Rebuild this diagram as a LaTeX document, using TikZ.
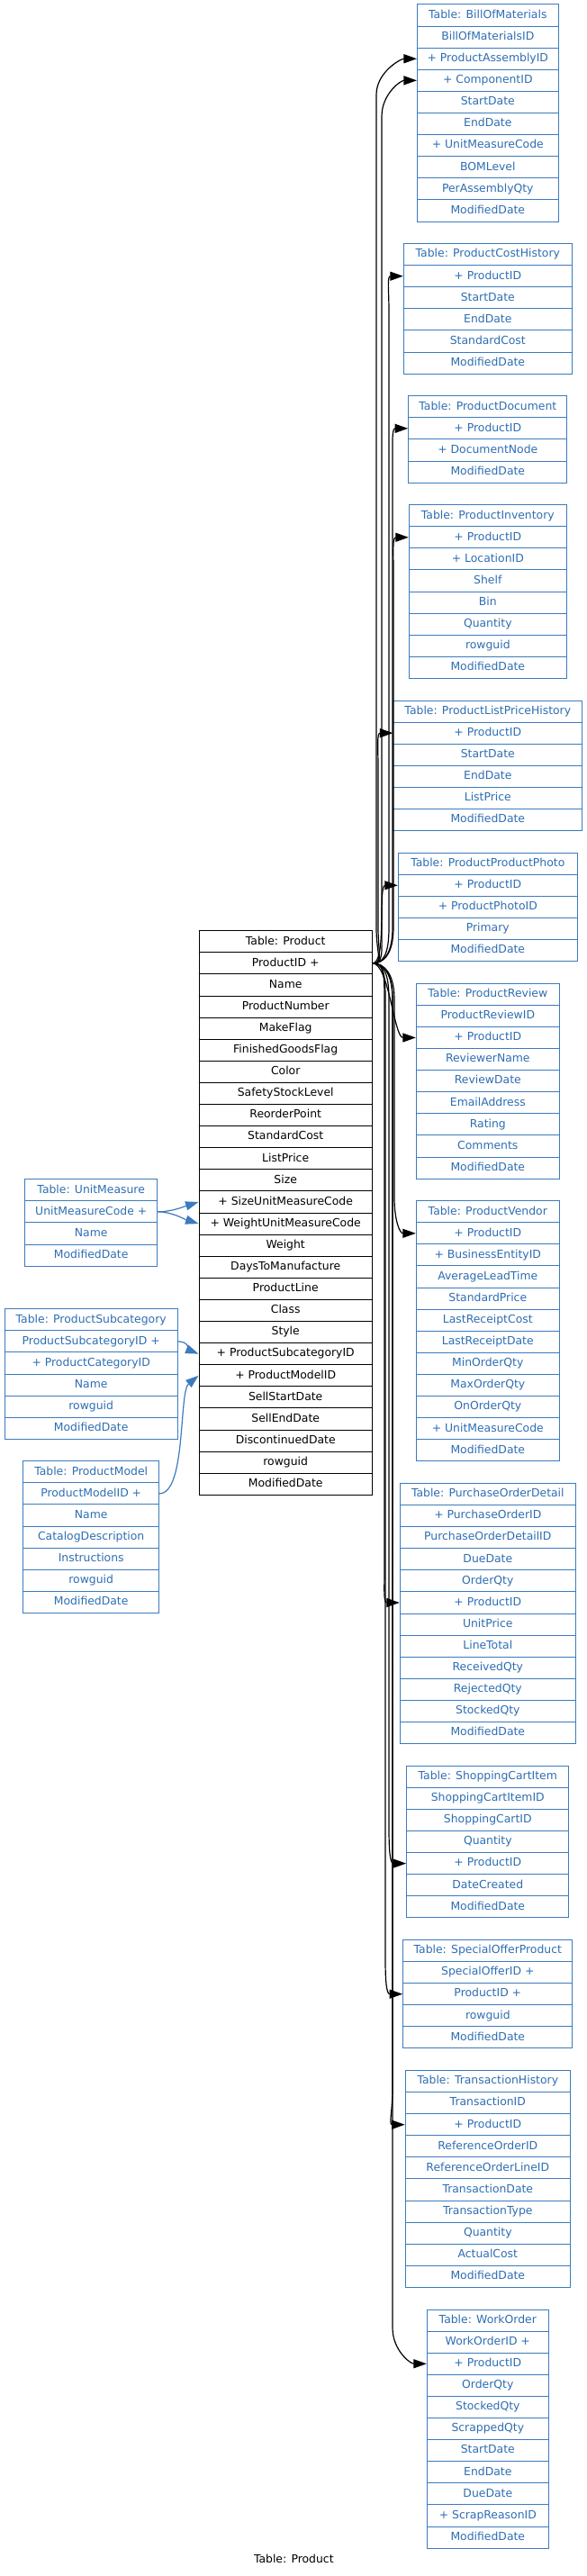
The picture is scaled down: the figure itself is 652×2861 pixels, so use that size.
\documentclass[tikz,border=0pt]{standalone}
\usepackage{fontspec}
\setmainfont{DejaVu Sans}
\usetikzlibrary{arrows.meta}
\definecolor{tblue}{HTML}{3C7BBE}
\definecolor{ttext}{HTML}{2E6DB1}
\newcommand{\tabfont}{\fontsize{12.4}{14}\selectfont}
% one table: name, centre x, top y, width, style, fields
\newcommand{\dbtable}[6]{%
  \foreach \fld [count=\i from 0] in {#6}{%
    \node[#5, minimum width=#4pt] (#1-\i) at (#2, #3+12.05+\i*24.1) {\fld};
  }}
\tikzset{
  tblfield/.style={rectangle, draw=tblue, text=ttext, line width=1pt,
                   minimum height=24.1pt, inner sep=0pt, text height=9.2pt,
                   text depth=2.6pt, font=\tabfont},
  prodfield/.style={tblfield, draw=black, text=black},
  fk/.style={-{Triangle[length=14.5pt,width=10pt]}, line width=1.2pt, black},
  bfk/.style={fk, color=tblue}
}
\begin{document}
\begin{tikzpicture}[x=1pt,y=-1pt]
  \useasboundingbox (0,0) rectangle (652,2861);

  % central table
  \dbtable{prod}{317.2}{1033.7}{192.3}{prodfield}{Table: Product, ProductID +, Name,
    ProductNumber, MakeFlag, FinishedGoodsFlag, Color, SafetyStockLevel, ReorderPoint,
    StandardCost, ListPrice, Size, + SizeUnitMeasureCode, + WeightUnitMeasureCode,
    Weight, DaysToManufacture, ProductLine, Class, Style, + ProductSubcategoryID,
    + ProductModelID, SellStartDate, SellEndDate, DiscontinuedDate, rowguid, ModifiedDate}

  % referenced tables (left)
  \dbtable{um}{101.2}{1309.7}{147}{tblfield}{Table: UnitMeasure, UnitMeasureCode +,
    Name, ModifiedDate}
  \dbtable{psc}{101.2}{1453.7}{192.3}{tblfield}{Table: ProductSubcategory,
    ProductSubcategoryID +, + ProductCategoryID, Name, rowguid, ModifiedDate}
  \dbtable{pm}{101.2}{1622.7}{150.6}{tblfield}{Table: ProductModel, ProductModelID +,
    Name, CatalogDescription, Instructions, rowguid, ModifiedDate}

  % referencing tables (right)
  \dbtable{bom}{541.8}{5}{156.7}{tblfield}{Table: BillOfMaterials, BillOfMaterialsID,
    + ProductAssemblyID, + ComponentID, StartDate, EndDate, + UnitMeasureCode,
    BOMLevel, PerAssemblyQty, ModifiedDate}
  \dbtable{pch}{541.8}{270.55}{187}{tblfield}{Table: ProductCostHistory, + ProductID,
    StartDate, EndDate, StandardCost, ModifiedDate}
  \dbtable{pdoc}{541.8}{439.7}{176.3}{tblfield}{Table: ProductDocument, + ProductID,
    + DocumentNode, ModifiedDate}
  \dbtable{pinv}{541.8}{560.65}{175}{tblfield}{Table: ProductInventory, + ProductID,
    + LocationID, Shelf, Bin, Quantity, rowguid, ModifiedDate}
  \dbtable{plph}{541.8}{778}{209.7}{tblfield}{Table: ProductListPriceHistory,
    + ProductID, StartDate, EndDate, ListPrice, ModifiedDate}
  \dbtable{ppp}{541.8}{947.15}{199}{tblfield}{Table: ProductProductPhoto, + ProductID,
    + ProductPhotoID, Primary, ModifiedDate}
  \dbtable{prev}{541.8}{1092.2}{159}{tblfield}{Table: ProductReview, ProductReviewID,
    + ProductID, ReviewerName, ReviewDate, EmailAddress, Rating, Comments, ModifiedDate}
  \dbtable{pven}{541.8}{1333.65}{159}{tblfield}{Table: ProductVendor, + ProductID,
    + BusinessEntityID, AverageLeadTime, StandardPrice, LastReceiptCost,
    LastReceiptDate, MinOrderQty, MaxOrderQty, OnOrderQty, + UnitMeasureCode,
    ModifiedDate}
  \dbtable{pod}{541.8}{1647.4}{195}{tblfield}{Table: PurchaseOrderDetail,
    + PurchaseOrderID, PurchaseOrderDetailID, DueDate, OrderQty, + ProductID,
    UnitPrice, LineTotal, ReceivedQty, RejectedQty, StockedQty, ModifiedDate}
  \dbtable{sci}{541.8}{1961.15}{180.3}{tblfield}{Table: ShoppingCartItem,
    ShoppingCartItemID, ShoppingCartID, Quantity, + ProductID, DateCreated, ModifiedDate}
  \dbtable{sop}{541.8}{2154.4}{188.3}{tblfield}{Table: SpecialOfferProduct,
    SpecialOfferID +, ProductID +, rowguid, ModifiedDate}
  \dbtable{th}{541.8}{2299.45}{183.3}{tblfield}{Table: TransactionHistory,
    TransactionID, + ProductID, ReferenceOrderID, ReferenceOrderLineID,
    TransactionDate, TransactionType, Quantity, ActualCost, ModifiedDate}
  \dbtable{wo}{541.8}{2565}{135}{tblfield}{Table: WorkOrder, WorkOrderID +,
    + ProductID, OrderQty, StockedQty, ScrappedQty, StartDate, EndDate, DueDate,
    + ScrapReasonID, ModifiedDate}

  \node[font=\tabfont] (caption) at (326.3,2842) {Table: Product};

  % foreign keys into Product
  \draw[bfk] (um-1.east) .. controls +(16,0) and +(-16,5) .. (prod-12.west);
  \draw[bfk] (um-1.east) .. controls +(16,0) and +(-16,-5) .. (prod-13.west);
  \draw[bfk] (psc-1.east) .. controls +(12,0) and +(-10,-4) .. (prod-19.west);
  \draw[bfk] (pm-1.east) .. controls +(30,0) and +(-22,18) .. (prod-20.west);

  % foreign keys out of Product
  \foreach \tgt/\mx/\ty in {bom-2/418/65.25, bom-3/424/89.35, pch-1/432/306.7,
      pdoc-1/436/475.85, pinv-1/437/596.8, plph-1/420/814.15}
    \draw[fk] (prod-1.east) .. controls +(12,0) and +(0,30) .. (\mx,1030)
      -- (\mx,\ty+40) .. controls +(0,-25) and +(-18,0) .. (\tgt.west);
  \foreach \tgt/\mx/\ty in {pven-1/438/1369.8, pod-5/427/1779.95, sci-4/432/2069.6,
      sop-2/428/2214.65, th-2/436/2359.7, wo-2/436/2625.25}
    \draw[fk] (prod-1.east) .. controls +(12,0) and +(0,-30) .. (\mx,1110)
      -- (\mx,\ty-40) .. controls +(0,25) and +(-18,0) .. (\tgt.west);
  \draw[fk] (prod-1.east) .. controls +(16,0) and +(-22,0) .. (ppp-1.west);
  \draw[fk] (prod-1.east) .. controls +(18,0) and +(-24,0) .. (prev-2.west);
\end{tikzpicture}
\end{document}
